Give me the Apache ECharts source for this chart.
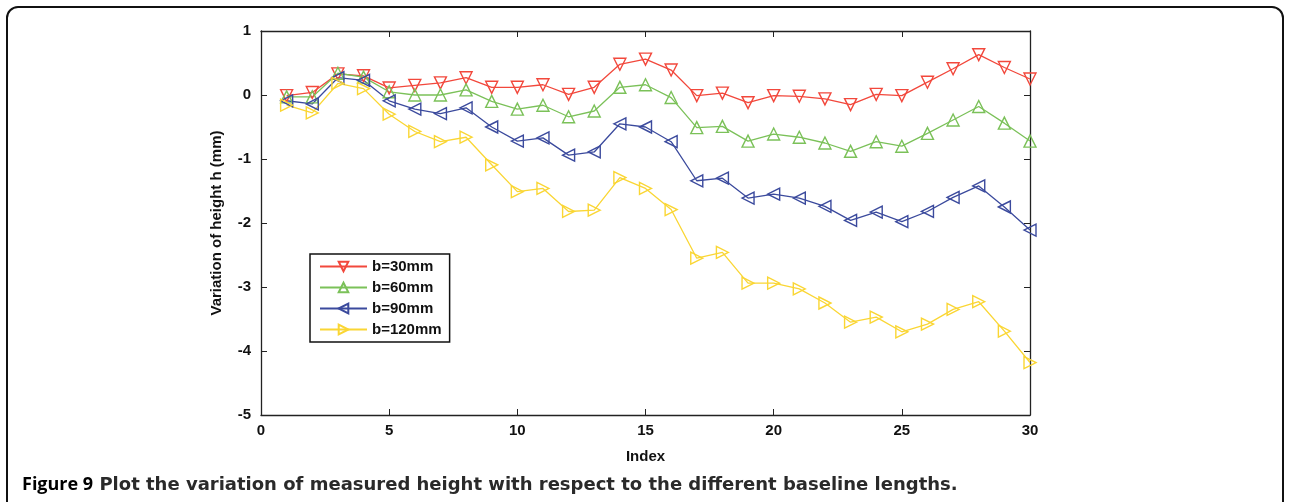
<!DOCTYPE html>
<html>
<head>
<meta charset="utf-8">
<title>Figure 9</title>
<script src="https://cdn.jsdelivr.net/npm/echarts@6/dist/echarts.min.js"></script>
</head>
<body style="margin:0;padding:0;background:#fff;">
<div id="main" style="width:1289px;height:502px;"></div>
<script type="text/javascript">
var index = [1,2,3,4,5,6,7,8,9,10,11,12,13,14,15,16,17,18,19,20,21,22,23,24,25,26,27,28,29,30];
var b30 = [-0.01,0.04,0.33,0.30,0.11,0.15,0.19,0.27,0.12,0.12,0.16,0.01,0.12,0.48,0.56,0.39,-0.01,0.03,-0.12,-0.01,-0.02,-0.06,-0.15,0.01,-0.01,0.20,0.41,0.63,0.43,0.25];
var b60 = [-0.03,-0.03,0.34,0.28,0.05,0.00,0.00,0.08,-0.10,-0.22,-0.16,-0.34,-0.25,0.12,0.16,-0.04,-0.51,-0.49,-0.72,-0.61,-0.66,-0.75,-0.88,-0.73,-0.80,-0.60,-0.39,-0.18,-0.44,-0.72];
var b90 = [-0.09,-0.14,0.27,0.23,-0.09,-0.22,-0.29,-0.20,-0.50,-0.72,-0.67,-0.94,-0.89,-0.45,-0.50,-0.73,-1.34,-1.30,-1.61,-1.55,-1.61,-1.74,-1.96,-1.83,-1.98,-1.82,-1.60,-1.42,-1.75,-2.11];
var b120 = [-0.16,-0.28,0.18,0.10,-0.30,-0.57,-0.73,-0.66,-1.09,-1.51,-1.46,-1.82,-1.80,-1.29,-1.46,-1.79,-2.55,-2.46,-2.94,-2.94,-3.03,-3.25,-3.55,-3.47,-3.70,-3.58,-3.35,-3.23,-3.69,-4.18];
var names = ['b=30mm','b=60mm','b=90mm','b=120mm'];
var colors = ['#f2483c','#7bc159','#3b4a9d','#fad634'];
var rotates = [180,0,90,-90];

var myChart = echarts.init(document.getElementById('main'));

function pairs(ys) {
    var out = [];
    for (var i = 0; i < index.length; i++) out.push([index[i], ys[i]]);
    return out;
}

var allData = [b30, b60, b90, b120];
var series = [];
for (var k = 0; k < 4; k++) {
    series.push({
        name: names[k],
        type: 'line',
        data: pairs(allData[k]),
        symbol: 'triangle',
        symbolSize: 12,
        symbolRotate: rotates[k],
        showAllSymbol: true,
        lineStyle: { color: colors[k], width: 1.3 },
        itemStyle: { color: 'rgba(255,255,255,0)', borderColor: colors[k], borderWidth: 1.4 },
        emphasis: { disabled: true },
        animation: false
    });
}

var fontBold = { fontFamily: 'Liberation Sans', fontWeight: 'bold', fontSize: 15, color: '#111' };
// box axes (MATLAB style): ticks inside, no labels on top/right
var boxLine = { onZero: false, lineStyle: { color: '#222', width: 1.3 } };
var boxTick = { inside: true, length: 6, lineStyle: { color: '#222' } };

var option = {
    animation: false,
    grid: { left: 261, right: 259, top: 31, bottom: 87 },
    legend: {
        orient: 'vertical',
        left: 310, top: 254,
        padding: [5, 8, 5, 9],
        itemWidth: 47, itemHeight: 12, itemGap: 6,
        backgroundColor: '#fff',
        borderColor: '#111', borderWidth: 1.5,
        textStyle: { fontFamily: 'Liberation Sans', fontWeight: 'bold', fontSize: 15, color: '#111' },
        data: names
    },
    xAxis: [{
        type: 'value', min: 0, max: 30, interval: 5,
        name: 'Index', nameLocation: 'middle', nameGap: 34,
        nameTextStyle: fontBold,
        axisLine: boxLine, axisTick: boxTick,
        axisLabel: Object.assign({ margin: 8 }, fontBold),
        splitLine: { show: false }
    }, {
        type: 'value', min: 0, max: 30, interval: 5, position: 'top',
        axisLine: boxLine, axisTick: boxTick,
        axisLabel: { show: false },
        splitLine: { show: false }
    }],
    yAxis: [{
        type: 'value', min: -5, max: 1, interval: 1,
        name: 'Variation of height h (mm)', nameLocation: 'middle', nameGap: 37,
        nameTextStyle: fontBold,
        axisLine: boxLine, axisTick: boxTick,
        axisLabel: Object.assign({ margin: 10 }, fontBold),
        splitLine: { show: false }
    }, {
        type: 'value', min: -5, max: 1, interval: 1, position: 'right',
        axisLine: boxLine, axisTick: boxTick,
        axisLabel: { show: false },
        splitLine: { show: false }
    }],
    graphic: [{
        type: 'rect',
        shape: { x: 7, y: 7, width: 1276, height: 600, r: [11, 11, 0, 0] },
        style: { fill: 'none', stroke: '#111', lineWidth: 2 },
        silent: true
    }, {
        type: 'text', left: 22, top: 476,
        style: {
            text: '{a|Figure 9} {b|Plot the variation of measured height with respect to the different baseline lengths.}',
            font: 'bold 18px "DejaVu Sans"', fill: '#2a2a2a',
            rich: {
                a: { font: 'bold 18px "Open Sans"', fill: '#000' },
                b: { font: 'bold 18px "DejaVu Sans"', fill: '#2a2a2a' }
            }
        }
    }],
    series: series
};
myChart.setOption(option);
</script>
</body>
</html>
